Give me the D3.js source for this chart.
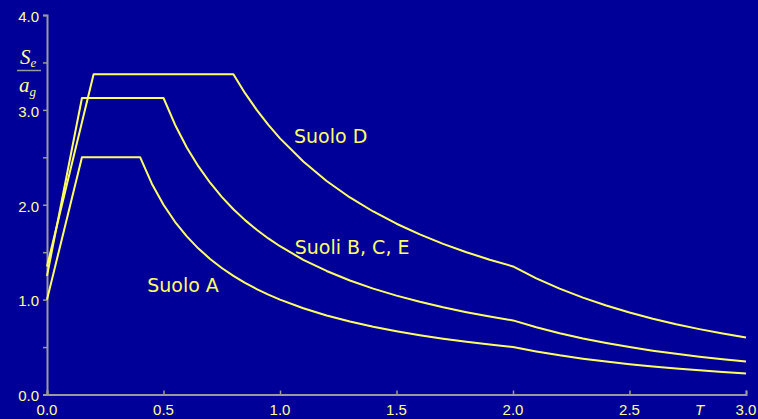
<!DOCTYPE html>
<html>
<head>
<meta charset="utf-8">
<script src="https://cdn.jsdelivr.net/npm/d3@7"></script>
<style>
  html, body { margin: 0; padding: 0; background: #000099; }
  svg { display: block; }
</style>
</head>
<body>
<svg id="chart" width="758" height="419"></svg>
<script>
// Periods T (s) shared by every spectrum
const periods = [0, 0.05, 0.1, 0.15, 0.2, 0.25, 0.3, 0.35, 0.4, 0.45, 0.5, 0.55, 0.6, 0.65, 0.7, 0.75, 0.8, 0.85, 0.9, 0.95, 1.0,
  1.1, 1.2, 1.3, 1.4, 1.5, 1.6, 1.7, 1.8, 1.9, 2.0, 2.1, 2.2, 2.3, 2.4, 2.5, 2.6, 2.7, 2.8, 2.9, 3.0];

// Normalised elastic spectra Se/ag
const suoloA = [1.0, 1.5, 2.0, 2.5, 2.5, 2.5, 2.5, 2.5, 2.5, 2.222, 2.0, 1.818, 1.667, 1.538, 1.429, 1.333, 1.25, 1.176, 1.111, 1.053, 1.0,
  0.909, 0.833, 0.769, 0.714, 0.667, 0.625, 0.588, 0.556, 0.526, 0.5, 0.454, 0.413, 0.378, 0.347, 0.32, 0.296, 0.274, 0.255, 0.238, 0.222];
const suoliBCE = [1.25, 1.875, 2.5, 3.125, 3.125, 3.125, 3.125, 3.125, 3.125, 3.125, 3.125, 2.841, 2.604, 2.404, 2.232, 2.083, 1.953, 1.838, 1.736, 1.645, 1.563,
  1.42, 1.302, 1.202, 1.116, 1.042, 0.977, 0.919, 0.868, 0.822, 0.781, 0.709, 0.646, 0.591, 0.543, 0.5, 0.462, 0.429, 0.399, 0.372, 0.347];
const suoloD = [1.35, 1.856, 2.363, 2.869, 3.375, 3.375, 3.375, 3.375, 3.375, 3.375, 3.375, 3.375, 3.375, 3.375, 3.375, 3.375, 3.375, 3.176, 3.0, 2.842, 2.7,
  2.455, 2.25, 2.077, 1.929, 1.8, 1.688, 1.588, 1.5, 1.421, 1.35, 1.224, 1.116, 1.021, 0.938, 0.864, 0.799, 0.741, 0.689, 0.642, 0.6];

const seriesNames = ["Suolo A", "Suoli B, C, E", "Suolo D"];
// Where each curve's name sits, in data units [T, Se/ag]
const labelPos = [[0.43, 1.08], [1.063, 1.48], [1.06, 2.65]];

const xTicks = [0, 0.5, 1.0, 1.5, 2.0, 2.5, 3.0];
const yTicks = [0, 0.5, 1.0, 1.5, 2.0, 2.5, 3.0, 3.5, 4.0];
const yLabelled = [0, 1.0, 2.0, 3.0, 4.0];

const BG = "#000099", LINE = "#ffff66", TEXT = "#ffff99", AXIS = "#9a9a9a";

const svg = d3.select("#chart");
svg.append("rect").attr("width", 758).attr("height", 419).attr("fill", BG);

const x = d3.scaleLinear().domain([0, 3]).range([47, 746]);
const y = d3.scaleLinear().domain([0, 4]).range([394.5, 15]);

// Axes
const xAxis = d3.axisBottom(x).tickValues(xTicks).tickSize(-4).tickPadding(0).tickFormat(() => "");
const yAxis = d3.axisLeft(y).tickValues(yTicks).tickSize(4).tickFormat(() => "");

const gx = svg.append("g").attr("transform", `translate(0,${y(0)})`).call(xAxis);
const gy = svg.append("g").attr("transform", `translate(${x(0)},0)`).call(yAxis);
[gx, gy].forEach(g => {
  g.select(".domain").attr("stroke", AXIS).attr("stroke-width", 2);
  g.selectAll(".tick line").attr("stroke", AXIS).attr("stroke-width", 1.5);
});

// Tick labels
svg.append("g").selectAll("text").data(xTicks).join("text")
  .attr("x", d => x(d)).attr("y", 415)
  .attr("text-anchor", "middle")
  .attr("font-family", "Liberation Sans, Arial, sans-serif").attr("font-size", 15)
  .attr("fill", TEXT)
  .text(d => d.toFixed(1));

svg.append("g").selectAll("text").data(yLabelled).join("text")
  .attr("x", 39).attr("y", d => y(d)).attr("dy", "0.45em")
  .attr("text-anchor", "end")
  .attr("font-family", "Liberation Sans, Arial, sans-serif").attr("font-size", 15)
  .attr("fill", TEXT)
  .text(d => d.toFixed(1));

// Axis titles
svg.append("text").attr("x", 695).attr("y", 415)
  .attr("font-family", "Liberation Sans, Arial, sans-serif").attr("font-size", 15)
  .attr("font-style", "italic").attr("fill", TEXT).text("T");

const frac = svg.append("g").attr("font-family", "Liberation Serif, Times New Roman, serif")
  .attr("font-style", "italic").attr("fill", TEXT);
const se = frac.append("text").attr("x", 20).attr("y", 64).attr("font-size", 21);
se.append("tspan").text("S");
se.append("tspan").attr("font-size", 13).attr("dy", 3).text("e");
frac.append("line").attr("x1", 17).attr("x2", 41).attr("y1", 70.5).attr("y2", 70.5)
  .attr("stroke", AXIS).attr("stroke-width", 1.5);
const ag = frac.append("text").attr("x", 19).attr("y", 92).attr("font-size", 21);
ag.append("tspan").text("a");
ag.append("tspan").attr("font-size", 13).attr("dy", 4).text("g");

// Spectra
const line = d3.line().x((d, i) => x(periods[i])).y(d => y(d));
svg.append("g").selectAll("path").data([suoloA, suoliBCE, suoloD]).join("path")
  .attr("d", line)
  .attr("fill", "none")
  .attr("stroke", LINE)
  .attr("stroke-width", 2)
  .attr("stroke-linejoin", "round");

// Curve names
svg.append("g").selectAll("text").data(seriesNames).join("text")
  .attr("x", (d, i) => x(labelPos[i][0]))
  .attr("y", (d, i) => y(labelPos[i][1]))
  .attr("font-family", "Comic Sans MS, DejaVu Sans, sans-serif").attr("font-size", 19)
  .attr("fill", LINE)
  .text(d => d);
</script>
</body>
</html>
